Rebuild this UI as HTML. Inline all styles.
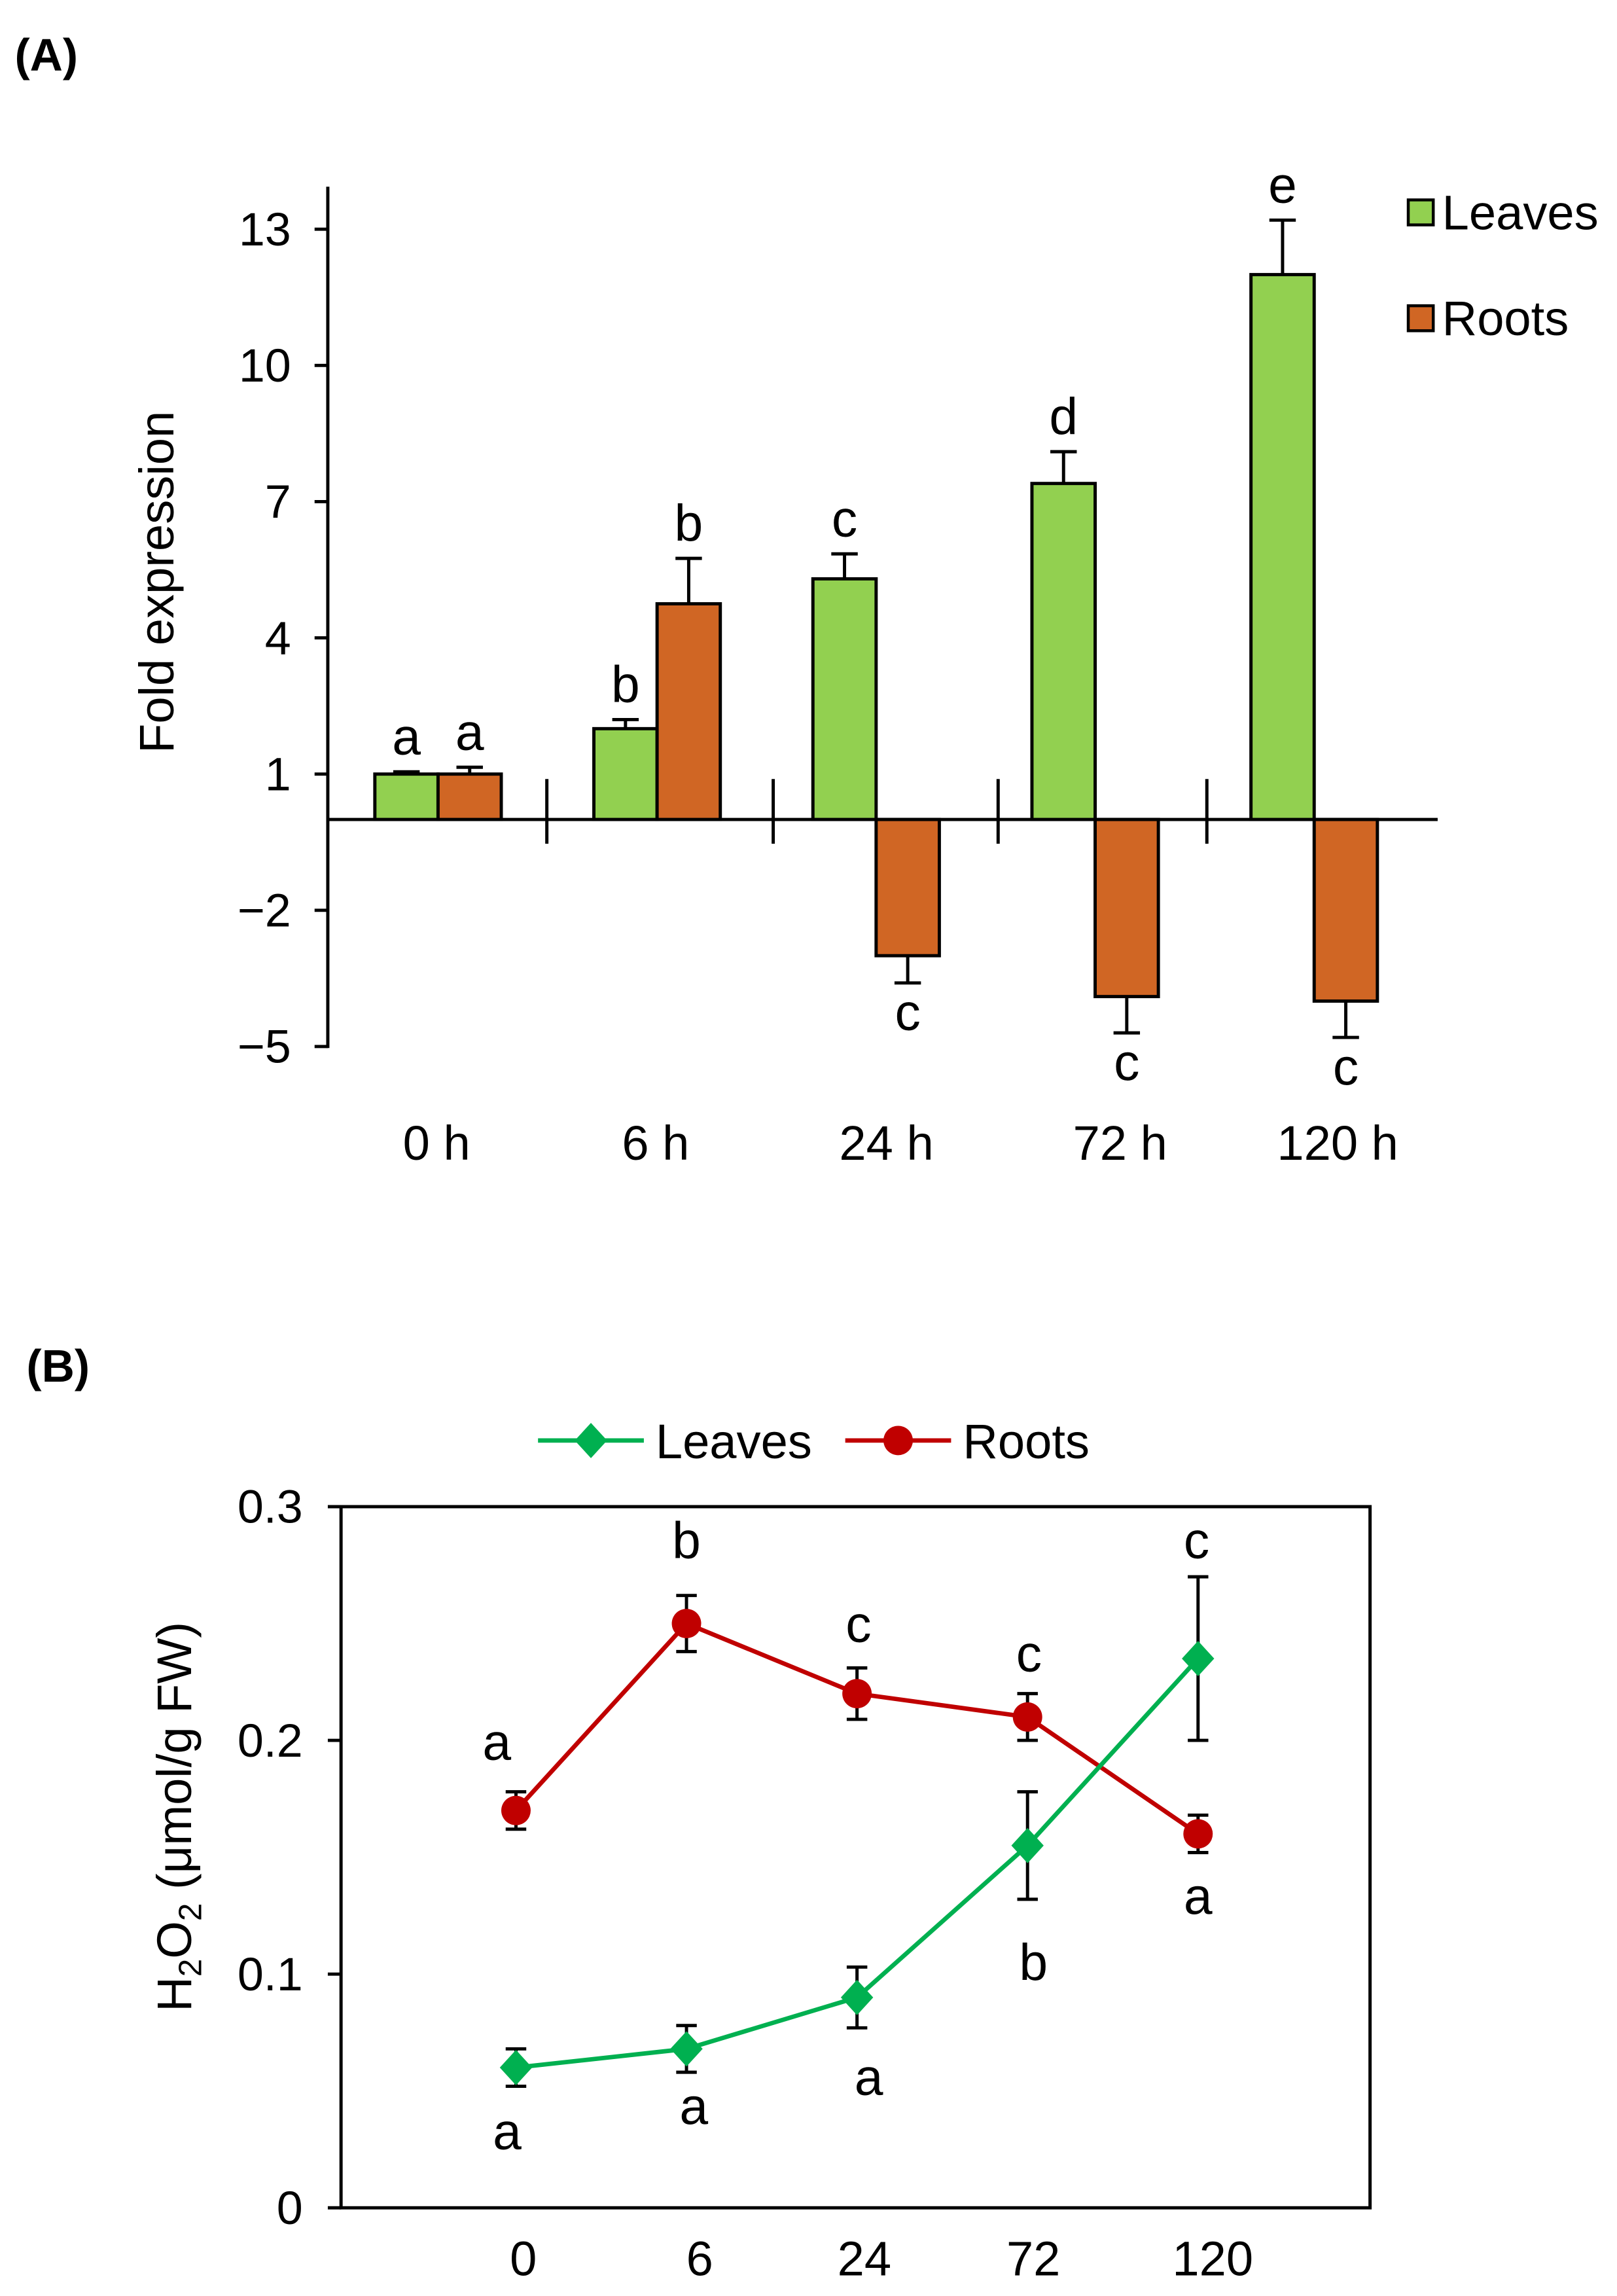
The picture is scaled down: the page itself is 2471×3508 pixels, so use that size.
<!DOCTYPE html>
<html><head><meta charset="utf-8"><style>
html,body{margin:0;padding:0;background:#fff}
svg{display:block}
text{font-family:"Liberation Sans",Arial,sans-serif;fill:#000}
</style></head><body>
<svg id="fig" width="2471" height="3508" viewBox="0 0 1100 1562" preserveAspectRatio="none" xmlns="http://www.w3.org/2000/svg">
<text x="10" y="48" font-size="31" font-weight="bold">(A)</text>
<text x="18" y="940" font-size="31" font-weight="bold">(B)</text>
<g id="chartA"></g>
<g id="chartB" transform="translate(0,-4)"></g>
</svg>
<script>
const groupsA = ["0 h","6 h","24 h","72 h","120 h"];
const leavesA = [1.0, 2.0, 5.3, 7.4, 12.0];
const leavesErrA = [0.05, 0.2, 0.55, 0.7, 1.2];
const rootsA = [1.0, 4.75, -3.0, -3.9, -4.0];
const rootsErrA = [0.15, 1.0, 0.6, 0.8, 0.8];
const leavesLetA = ["a","b","c","d","e"];
const rootsLetA = ["a","b","c","c","c"];
const ticksA = [13,10,7,4,1,-2,-5];

const timesB = ["0","6","24","72","120"];
const leavesB = [0.06, 0.068, 0.09, 0.155, 0.235];
const leavesErrB = [0.008, 0.01, 0.013, 0.023, 0.035];
const rootsB = [0.17, 0.25, 0.22, 0.21, 0.16];
const rootsErrB = [0.008, 0.012, 0.011, 0.01, 0.008];
const leavesLetB = ["a","a","a","b","c"];
const rootsLetB = ["a","b","c","c","a"];
const ticksB = [0, 0.1, 0.2, 0.3];

const NS="http://www.w3.org/2000/svg";
function mk(parent, tag, attrs, txt){const e=document.createElementNS(NS,tag);for(const k in attrs)e.setAttribute(k,attrs[k]);if(txt!==undefined)e.textContent=txt;parent.appendChild(e);return e;}

const TF=32, LF=35, GF=33;
// Chart A
const A=document.getElementById('chartA');
const yA=v=>557.5 - v*(92.67/3);
const gx=i=>298 + i*149;
const bw=43;
let e;
e=mk(A,'line',{x1:223,y1:127,x2:223,y2:713,stroke:'#000','stroke-width':2.2});


e=mk(A,'line',{x1:223,y1:yA(0),x2:978,y2:yA(0),stroke:'#000','stroke-width':2.2});


ticksA.forEach(t=>{
  e=mk(A,'line',{x1:214,y1:yA(t),x2:223,y2:yA(t),stroke:'#000','stroke-width':2.2});
  
  
  e=mk(A,'text',{x:198,y:yA(t)+11,'font-size':TF,'text-anchor':'end'},t<0?'\u2212'+(-t):String(t));
  
  
});
[372,526,679,821].forEach(x=>{
  e=mk(A,'line',{x1:x,y1:530,x2:x,y2:574,stroke:'#000','stroke-width':2.2});
  
  
});
e=mk(A,'text',{x:118,y:396,'font-size':GF,'text-anchor':'middle',transform:'rotate(-90 118 396)'},'Fold expression');


const labX=[297,446,603,762,910];
groupsA.forEach((g,i)=>{
  const c=gx(i);
  e=mk(A,'text',{x:labX[i],y:789,'font-size':GF,'text-anchor':'middle'},g);
  
  
  const lv=leavesA[i], rv=rootsA[i];
  e=mk(A,'rect',{x:c-bw,y:Math.min(yA(lv),yA(0)),width:bw,height:Math.abs(yA(lv)-yA(0)),fill:'#92d050',stroke:'#000','stroke-width':2.2});
  
  
  e=mk(A,'rect',{x:c,y:Math.min(yA(rv),yA(0)),width:bw,height:Math.abs(yA(rv)-yA(0)),fill:'#d06624',stroke:'#000','stroke-width':2.2});
  
  
  const le=lv+leavesErrA[i];
  e=mk(A,'path',{d:`M${c-bw/2} ${yA(lv)}V${yA(le)}M${c-bw/2-9} ${yA(le)}H${c-bw/2+9}`,stroke:'#000','stroke-width':2.2,fill:'none'});
  
  
  const re=rv+(rv<0?-rootsErrA[i]:rootsErrA[i]);
  e=mk(A,'path',{d:`M${c+bw/2} ${yA(rv)}V${yA(re)}M${c+bw/2-9} ${yA(re)}H${c+bw/2+9}`,stroke:'#000','stroke-width':2.2,fill:'none'});
  
  
  e=mk(A,'text',{x:c-bw/2,y:yA(le)-12,'font-size':LF,'text-anchor':'middle'},leavesLetA[i]);
  
  
  e=mk(A,'text',{x:c+bw/2,y:rv<0?yA(re)+32:yA(re)-12,'font-size':LF,'text-anchor':'middle'},rootsLetA[i]);
  
  
});
e=mk(A,'rect',{x:958,y:136,width:17,height:17,fill:'#92d050',stroke:'#000','stroke-width':2});


e=mk(A,'text',{x:981,y:156,'font-size':GF},'Leaves');


e=mk(A,'rect',{x:958,y:208,width:17,height:17,fill:'#d06624',stroke:'#000','stroke-width':2});


e=mk(A,'text',{x:981,y:228,'font-size':GF},'Roots');



// Chart B
const B=document.getElementById('chartB');
const yB=v=>1506 - v*(477/0.3);
const xB=i=>351 + i*116;
e=mk(B,'rect',{x:232,y:yB(0.3),width:700,height:477,fill:'none',stroke:'#000','stroke-width':2.2});


ticksB.forEach(t=>{
  e=mk(B,'line',{x1:223,y1:yB(t),x2:232,y2:yB(t),stroke:'#000','stroke-width':2.2});
  
  
  e=mk(B,'text',{x:206,y:yB(t)+11,'font-size':TF,'text-anchor':'end'},t===0?'0':t.toFixed(1));
  
  
});
const labXB=[356,476,588,703,825];
timesB.forEach((t,i)=>{
  e=mk(B,'text',{x:labXB[i],y:1552,'font-size':GF,'text-anchor':'middle'},t);
  
  
});
e=mk(B,'text',{x:130,y:1240,'font-size':GF,'text-anchor':'middle',transform:'rotate(-90 130 1240)'});


e.innerHTML='H<tspan font-size="22" dy="7">2</tspan><tspan dy="-7">O</tspan><tspan font-size="22" dy="7">2</tspan><tspan dy="-7"> (μmol/g FW)</tspan>';
function series(vals,errs,color,shape,name){
  e=mk(B,'polyline',{points:vals.map((v,i)=>xB(i)+','+yB(v)).join(' '),fill:'none',stroke:color,'stroke-width':3});
  
  
  vals.forEach((v,i)=>{
    const x=xB(i),t=yB(v+errs[i]),b=yB(v-errs[i]);
    e=mk(B,'path',{d:`M${x} ${t}V${b}M${x-7} ${t}H${x+7}M${x-7} ${b}H${x+7}`,stroke:'#000','stroke-width':2.2,fill:'none'});
    
    
    if(shape==='d'){
      e=mk(B,'polygon',{points:`${x},${yB(v)-12} ${x+11},${yB(v)} ${x},${yB(v)+12} ${x-11},${yB(v)}`,fill:color});
    } else {
      e=mk(B,'circle',{cx:x,cy:yB(v),r:10,fill:color});
    }
    
    
  });
}
series(rootsB,rootsErrB,'#c00000','c','roots');
series(leavesB,leavesErrB,'#00b050','d','leaves');
const rootsLetPos=[[338,1201],[467,1064],[584,1121],[700,1141],[815,1306]];
const leavesLetPos=[[345,1466],[472,1449],[591,1429],[703,1351],[814,1064]];
rootsLetB.forEach((l,i)=>{
  e=mk(B,'text',{x:rootsLetPos[i][0],y:rootsLetPos[i][1],'font-size':LF,'text-anchor':'middle'},l);
  
  
});
leavesLetB.forEach((l,i)=>{
  e=mk(B,'text',{x:leavesLetPos[i][0],y:leavesLetPos[i][1],'font-size':LF,'text-anchor':'middle'},l);
  
  
});
e=mk(B,'line',{x1:366,y1:984,x2:438,y2:984,stroke:'#00b050','stroke-width':3});


e=mk(B,'polygon',{points:'402,972 413,984 402,996 391,984',fill:'#00b050'});


e=mk(B,'text',{x:446,y:996,'font-size':GF},'Leaves');


e=mk(B,'line',{x1:575,y1:984,x2:647,y2:984,stroke:'#c00000','stroke-width':3});


e=mk(B,'circle',{cx:611,cy:984,r:10,fill:'#c00000'});


e=mk(B,'text',{x:655,y:996,'font-size':GF},'Roots');


</script>
</body></html>
